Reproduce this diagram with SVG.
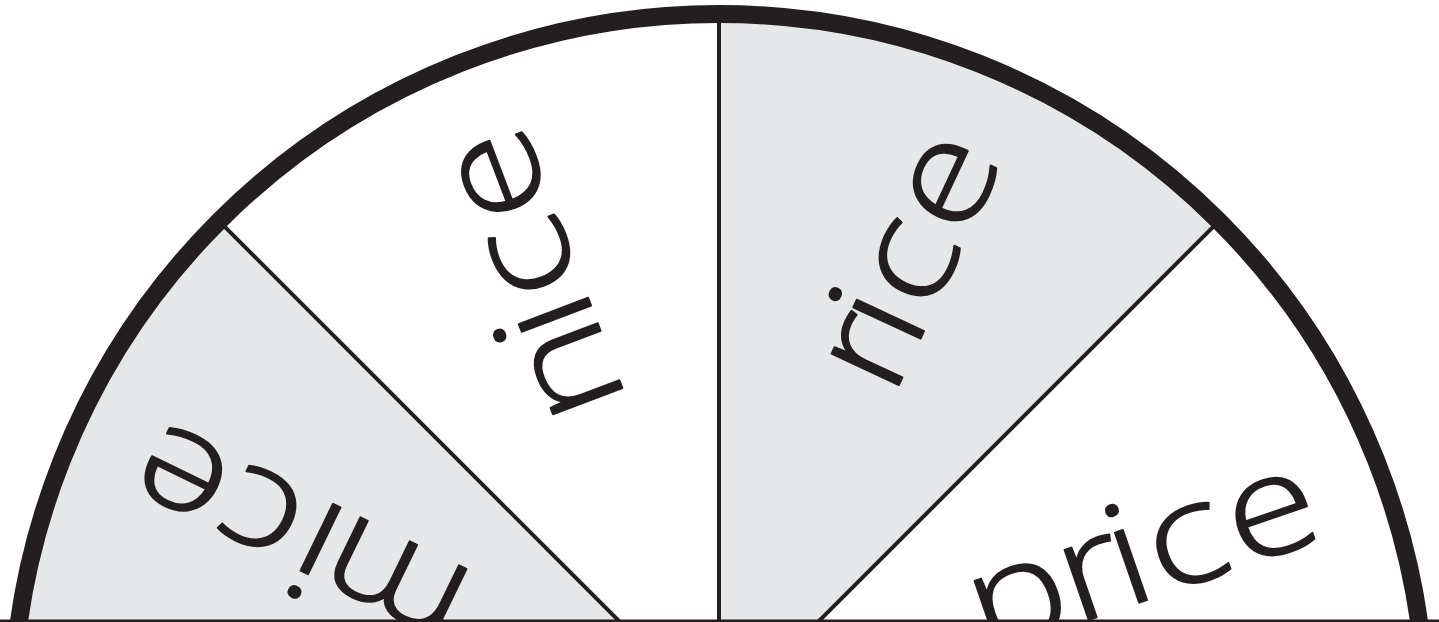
<svg xmlns="http://www.w3.org/2000/svg" width="1439" height="622" viewBox="0 0 1439 622">
<style>
.gray{fill:#e6e7e8;stroke:none}
.div{stroke:#231f20;stroke-width:4;fill:none}
.rim{stroke:#231f20;stroke-width:18;fill:none}
.lbl{font-family:"Open Sans","Liberation Sans",sans-serif;font-size:140px;font-weight:300;fill:#231f20;stroke:#231f20;stroke-width:1.8;stroke-linejoin:round;text-anchor:middle}
</style>
<rect width="1439" height="622" fill="#ffffff"/>
<g id="sector-mice">
<path class="gray" d="M719,721 L12,721 A707,707 0 0 1 219.1,221.1 Z"/>
<text class="lbl" transform="translate(719,721) rotate(-154) scale(1.18,1)" x="298.3 371.2 424.6 500" y="26">mice</text>
</g>
<g id="sector-nice">
<text class="lbl" transform="translate(719,721) rotate(-110.8) scale(1.18,1)" x="322 371.2 422.9 498.3" y="28">nice</text>
</g>
<g id="sector-rice">
<path class="gray" d="M719,721 L719,14 A707,707 0 0 1 1218.9,221.1 Z"/>
<text class="lbl" transform="translate(719,721) rotate(-65) scale(1.18,1)" x="337.3 369.5 421.2 496.6" y="21">rice</text>
</g>
<g id="sector-price">
<text class="lbl" transform="translate(719,721) rotate(-19) scale(1.18,1)" x="272.9 339 372.9 423.7 500" y="25">price</text>
</g>
<g id="connectors">
<line class="div" x1="719" y1="721" x2="219.1" y2="221.1"/>
<line class="div" x1="719" y1="721" x2="719" y2="14"/>
<line class="div" x1="719" y1="721" x2="1218.9" y2="221.1"/>
</g>
<circle class="rim" cx="719" cy="721" r="707"/>
<line x1="0" y1="620.8" x2="1439" y2="620.8" stroke="#231f20" stroke-width="2.5"/>
</svg>
